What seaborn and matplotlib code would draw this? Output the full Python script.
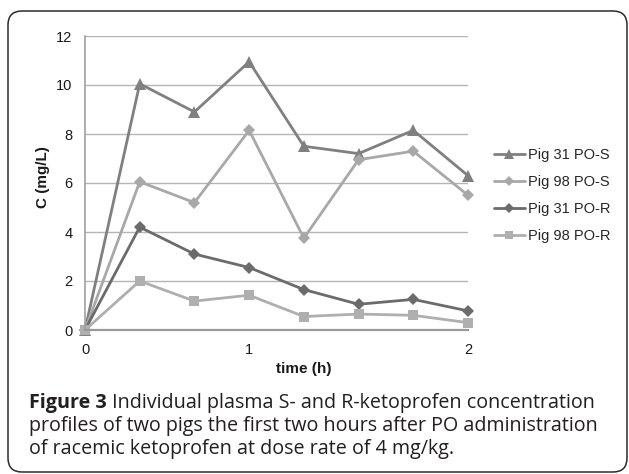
#!/usr/bin/env python3
"""
Figure 3 recreation: S- and R-ketoprofen plasma profiles, two pigs, PO dosing.
"""

import pandas as pd
import matplotlib
matplotlib.use('Agg')
import matplotlib.pyplot as plt
from matplotlib.patches import FancyBboxPatch
from matplotlib.transforms import IdentityTransform
import seaborn as sns

# sampling times (h) - drawn as evenly spaced categories like the original
time_h = [0, 0.33, 0.67, 1, 1.25, 1.5, 1.75, 2]
time_labels = ["0", "", "", "1", "", "", "", "2"]

series_names = ["Pig 31 PO-S", "Pig 98 PO-S", "Pig 31 PO-R", "Pig 98 PO-R"]
pig31_s = [0, 10.05, 8.9, 10.95, 7.5, 7.2, 8.15, 6.3]
pig98_s = [0, 6.05, 5.2, 8.15, 3.75, 6.95, 7.3, 5.5]
pig31_r = [0, 4.2, 3.1, 2.55, 1.65, 1.05, 1.25, 0.78]
pig98_r = [0, 2.0, 1.18, 1.42, 0.55, 0.65, 0.6, 0.3]

colors = ["#808080", "#a8a8a8", "#6b6b6b", "#afafaf"]
markers = ["^", "D", "D", "s"]
marker_sizes = [8, 6, 6, 7.5]

caption_bold = "Figure 3"
caption_lines = [
    " Individual plasma S- and R-ketoprofen concentration",
    "profiles of two pigs the first two hours after PO administration",
    "of racemic ketoprofen at dose rate of 4 mg/kg.",
]


def build_frame():
    rows = []
    for name, vals in zip(series_names, [pig31_s, pig98_s, pig31_r, pig98_r]):
        for i, (t, v) in enumerate(zip(time_h, vals)):
            rows.append({'pos': i, 'time': t, 'conc': v, 'series': name})
    return pd.DataFrame(rows)


def main():
    sns.set_style('white')
    plt.rcParams['font.family'] = ['Liberation Sans', 'DejaVu Sans']

    W, H = 629, 474
    fig = plt.figure(figsize=(W / 100, H / 100), dpi=100)
    ax = fig.add_axes([85 / W, 1 - 330 / H, (468 - 85) / W, (330 - 36) / H])

    df = build_frame()
    sns.lineplot(data=df, x='pos', y='conc', hue='series', style='series',
                 hue_order=series_names, style_order=series_names,
                 palette=dict(zip(series_names, colors)),
                 markers=dict(zip(series_names, markers)), dashes=False,
                 linewidth=2.0, markeredgewidth=0, ax=ax, legend=True)

    for line, ms in zip(ax.lines[:4], marker_sizes):
        line.set_markersize(ms)
        line.set_clip_on(False)

    ax.set_xlim(0, len(time_h) - 1)
    ax.set_ylim(0, 12)
    ax.set_xticks(range(len(time_h)))
    ax.set_xticklabels(time_labels)
    ax.set_yticks(range(0, 13, 2))
    ax.tick_params(axis='both', length=0, labelsize=10.5, colors='#1a1a1a')
    ax.tick_params(axis='y', pad=9)
    ax.tick_params(axis='x', pad=9)
    ax.set_xlabel('')
    ax.set_ylabel('')
    ax.yaxis.grid(True, color='#b5b5b5', linewidth=1.0)
    ax.set_axisbelow(True)
    for side in ['top', 'right']:
        ax.spines[side].set_visible(False)
    ax.spines['left'].set_color('#a0a0a0')
    ax.spines['left'].set_linewidth(1.2)
    ax.spines['bottom'].set_color('#999999')
    ax.spines['bottom'].set_linewidth(1.6)

    handles, labels = ax.get_legend_handles_labels()
    ax.get_legend().remove()
    for h, ms in zip(handles, marker_sizes):
        h.set_markersize(ms * 0.85)
    fig.legend(handles, labels, loc='upper left',
               bbox_to_anchor=(494 / W, 1 - 148 / H), frameon=False,
               fontsize=10.5, handlelength=2.1, handletextpad=0.2,
               labelspacing=0.9, borderpad=0, borderaxespad=0)

    fig.text(43 / W, 1 - 177 / H, 'C (mg/L)', rotation=90, fontsize=11,
             fontweight='bold', ha='center', va='center', color='#1a1a1a')
    fig.text(304 / W, 1 - 369 / H, 'time (h)', fontsize=11,
             fontweight='bold', ha='center', va='center', color='#1a1a1a')

    # caption, "Figure 3" in bold then the rest in regular weight
    cap_font = ['Open Sans', 'DejaVu Sans']
    cap_color = '#231f20'
    cap_size = 14.2
    x0 = 29 / W
    baselines = [408, 431, 454]
    t_bold = fig.text(x0, 1 - baselines[0] / H, caption_bold, fontsize=cap_size,
                      fontweight='bold', family=cap_font, color=cap_color,
                      va='baseline', ha='left')
    fig.canvas.draw()
    bb = t_bold.get_window_extent(renderer=fig.canvas.get_renderer())
    fig.text(bb.x1 / W, 1 - baselines[0] / H, caption_lines[0], fontsize=cap_size,
             family=cap_font, color=cap_color, va='baseline', ha='left')
    for line, yb in zip(caption_lines[1:], baselines[1:]):
        fig.text(x0, 1 - yb / H, line, fontsize=cap_size, family=cap_font,
                 color=cap_color, va='baseline', ha='left')

    # rounded frame, cut off at the right/bottom like the original
    frame = FancyBboxPatch((8, 2), 619, 461, boxstyle='round,pad=0,rounding_size=14',
                           transform=IdentityTransform(), fill=False,
                           edgecolor='#2b2b2b', linewidth=1.1)
    fig.add_artist(frame)

    fig.savefig('out.png', dpi=100)
    plt.close(fig)


if __name__ == "__main__":
    main()
